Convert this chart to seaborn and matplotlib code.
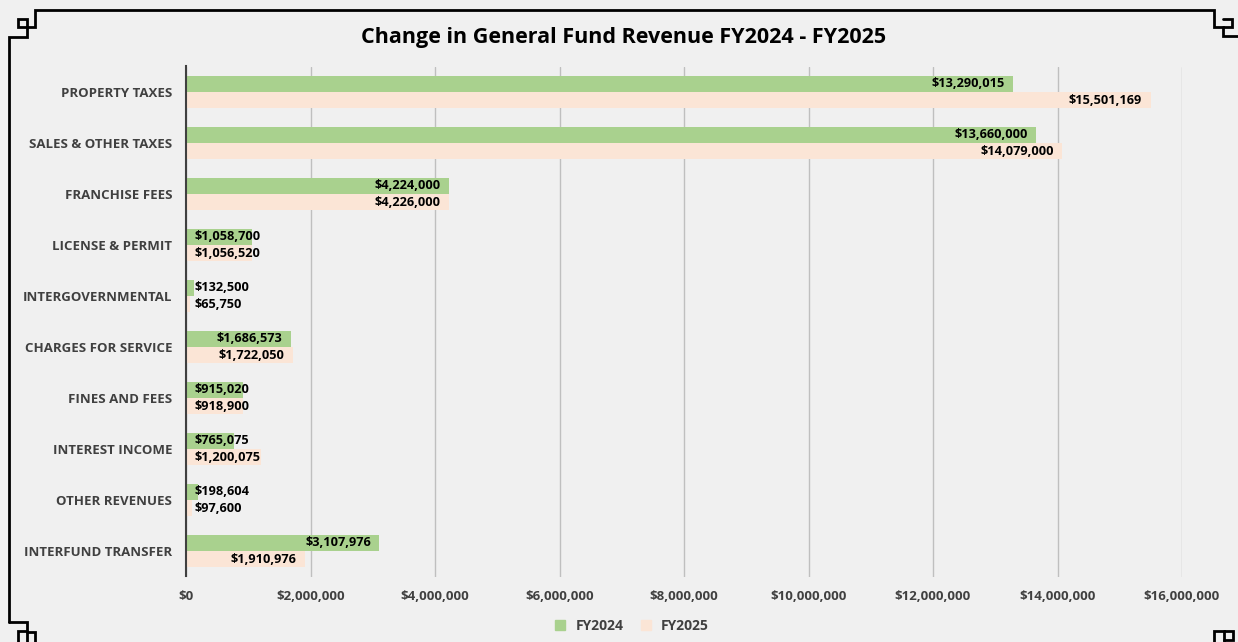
import pandas as pd
import numpy as np
import seaborn as sns
import matplotlib.pyplot as plt
from matplotlib.lines import Line2D
from matplotlib.ticker import FuncFormatter

# data
categories = ["PROPERTY TAXES", "SALES & OTHER TAXES", "FRANCHISE FEES", "LICENSE & PERMIT",
              "INTERGOVERNMENTAL", "CHARGES FOR SERVICE", "FINES AND FEES", "INTEREST INCOME",
              "OTHER REVENUES", "INTERFUND TRANSFER"]
fy2024 = [13290015, 13660000, 4224000, 1058700, 132500, 1686573, 915020, 765075, 198604, 3107976]
fy2025 = [15501169, 14079000, 4226000, 1056520, 65750, 1722050, 918900, 1200075, 97600, 1910976]
series = ["FY2024", "FY2025"]
colors = ["#a9d18e", "#fbe5d6"]

df = pd.DataFrame({"category": categories * 2,
                   "value": fy2024 + fy2025,
                   "year": [series[0]] * len(categories) + [series[1]] * len(categories)})

sns.set_style("white")
plt.rcParams['font.family'] = ['Open Sans', 'DejaVu Sans']

W, H = 1238, 642
fig = plt.figure(figsize=(W / 100, H / 100), dpi=100)
fig.patch.set_facecolor("#f0f0f0")
ax = fig.add_axes([186 / W, 1 - 576.5 / H, (1182 - 186) / W, (576.5 - 66.5) / H])
ax.set_facecolor("#f0f0f0")

sns.barplot(data=df, y="category", x="value", hue="year", orient="h",
            palette=colors, width=0.63, saturation=1, linewidth=0, ax=ax, legend=False)

ax.set_xlim(0, 16000000)
ax.set_xticks(np.arange(0, 16000001, 2000000))
ax.xaxis.set_major_formatter(FuncFormatter(lambda v, p: "${:,.0f}".format(v)))
ax.grid(axis="x", color="#bfbfbf", linewidth=1)
ax.set_axisbelow(True)
for s in ["top", "right", "bottom"]:
    ax.spines[s].set_visible(False)
ax.spines["left"].set_color("#404040")
ax.spines["left"].set_linewidth(1.5)
ax.tick_params(axis="y", length=0, labelsize=9.5, labelcolor="#404040", pad=10)
ax.tick_params(axis="x", length=0, labelsize=9.5, labelcolor="#404040", pad=10)
for lab in ax.get_xticklabels() + ax.get_yticklabels():
    lab.set_fontweight("bold")
ax.set_xlabel("")
ax.set_ylabel("")

# data labels: inside end, overflow from the base when the bar is short
for cont in ax.containers:
    for bar in cont:
        v = bar.get_width()
        yc = bar.get_y() + bar.get_height() / 2
        txt = "${:,.0f}".format(v)
        if v > 1500000:
            ax.text(v - 140000, yc, txt, ha="right", va="center", fontsize=9.2, fontweight="bold", color="black")
        else:
            ax.text(130000, yc, txt, ha="left", va="center", fontsize=9.2, fontweight="bold", color="black")

fig.text(0.504, 1 - 37 / H, "Change in General Fund Revenue FY2024 - FY2025",
         ha="center", va="center", fontsize=15.5, fontweight="bold", color="black")

handles = [Line2D([], [], marker="s", linestyle="", markersize=7, color=c) for c in colors]
leg = fig.legend(handles, series, loc="center", bbox_to_anchor=(0.507, 1 - 626 / H), ncol=2,
                 frameon=False, handletextpad=0.1, columnspacing=0.6,
                 prop={"weight": "bold", "size": 10})
for t in leg.get_texts():
    t.set_color("#404040")

# decorative frame
def fline(xs, ys):
    fig.add_artist(Line2D([x / W for x in xs], [1 - y / H for y in ys], color="black",
                          linewidth=2, transform=fig.transFigure, solid_joinstyle="miter"))

# top edge with both top corners
fline([9, 9, 27, 27, 35, 35, 1214, 1214, 1223, 1223, 1240], [622, 37, 37, 27, 27, 10, 10, 27, 27, 36, 36])
fline([27, 18, 18, 27, 27], [27, 27, 19, 19, 27])
fline([1223, 1232, 1232, 1223], [27, 27, 19, 19])
# bottom-left
fline([9, 27, 27], [622, 622, 642])
fline([27, 35, 35], [632, 632, 642])
fline([18, 18, 27], [642, 631, 631])
# bottom-right
fline([1214, 1214, 1224, 1224], [645, 631, 631, 642])
fline([1224, 1233, 1233, 1224], [631, 631, 640, 640])

fig.savefig("out.png", dpi=100, facecolor=fig.get_facecolor())
